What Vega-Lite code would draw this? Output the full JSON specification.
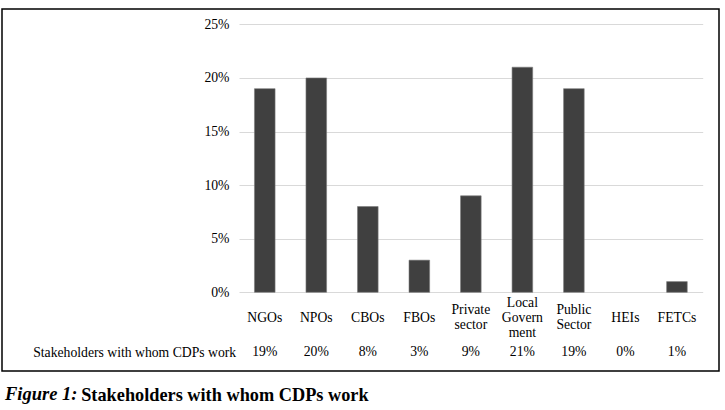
{
  "$schema": "https://vega.github.io/schema/vega-lite/v6.json",
  "width": 717,
  "height": 362,
  "autosize": {"type": "none"},
  "padding": {"left": 2, "top": 9, "right": 6, "bottom": 39},
  "background": "white",
  "config": {
    "view": {"stroke": "black", "strokeWidth": 1.5},
    "font": "Liberation Serif"
  },
  "title": {
    "text": "Figure 1:",
    "orient": "bottom",
    "anchor": "start",
    "frame": "group",
    "offset": -4.5,
    "baseline": "alphabetic",
    "dx": 3,
    "font": "Liberation Serif",
    "fontSize": 18.5,
    "fontWeight": "bold",
    "fontStyle": "italic",
    "color": "black"
  },
  "data": {
    "values": [
      {"stakeholder": "NGOs", "share": 0.19},
      {"stakeholder": "NPOs", "share": 0.20},
      {"stakeholder": "CBOs", "share": 0.08},
      {"stakeholder": "FBOs", "share": 0.03},
      {"stakeholder": "Private sector", "share": 0.09},
      {"stakeholder": "Local Government", "share": 0.21},
      {"stakeholder": "Public Sector", "share": 0.19},
      {"stakeholder": "HEIs", "share": 0.0},
      {"stakeholder": "FETCs", "share": 0.01}
    ]
  },
  "encoding": {
    "x": {
      "field": "stakeholder",
      "type": "nominal",
      "sort": null,
      "scale": {"range": [237, 700.7], "paddingInner": 0.6, "paddingOuter": 0.3},
      "axis": {
        "orient": "bottom",
        "offset": -54,
        "ticks": false,
        "tickSize": 0,
        "domain": false,
        "grid": false,
        "labelPadding": {
          "condition": [
            {"test": "datum.value == 'Local Government'", "value": -15},
            {"test": "datum.value == 'Private sector' || datum.value == 'Public Sector'", "value": -7.5}
          ],
          "value": 0
        },
        "labelAngle": 0,
        "labelBaseline": "middle",
        "labelOverlap": false,
        "labelFont": "Liberation Serif",
        "labelFontSize": 13.7,
        "labelColor": "black",
        "labelLineHeight": 15,
        "labelExpr": "datum.value == 'Private sector' ? ['Private', 'sector'] : datum.value == 'Local Government' ? ['Local', 'Govern', 'ment'] : datum.value == 'Public Sector' ? ['Public', 'Sector'] : datum.label",
        "title": "Stakeholders with whom CDPs work",
        "titleFont": "Liberation Serif",
        "titleFontSize": 18.3,
        "titleFontWeight": "bold",
        "titleColor": "black",
        "titleAlign": "left",
        "titleBaseline": "alphabetic",
        "titleX": 78.7,
        "titleY": 83.7
      }
    },
    "y": {
      "field": "share",
      "type": "quantitative",
      "scale": {"domain": [-0.0734, 0.2643], "nice": false, "zero": false},
      "axis": {
        "values": [0, 0.05, 0.1, 0.15, 0.2, 0.25],
        "format": ".0%",
        "offset": -237,
        "ticks": false,
        "tickSize": 0,
        "domain": false,
        "grid": true,
        "gridColor": "#d9d9d9",
        "gridWidth": 1,
        "labelPadding": 10,
        "labelFont": "Liberation Serif",
        "labelFontSize": 13.7,
        "labelColor": "black",
        "title": "Stakeholders with whom CDPs work",
        "titleAngle": 0,
        "titleAlign": "right",
        "titleBaseline": "alphabetic",
        "titleX": -3.3,
        "titleY": 347,
        "titleFont": "Liberation Serif",
        "titleFontSize": 13.7,
        "titleFontWeight": "normal",
        "titleColor": "black"
      }
    }
  },
  "layer": [
    {
      "mark": {"type": "bar", "fill": "#404040", "stroke": "#7a7a7a", "strokeWidth": 0.6},
      "encoding": {
        "strokeOpacity": {"condition": {"test": "datum.share == 0", "value": 0}, "value": 1}
      }
    },
    {
      "mark": {"type": "text", "font": "Liberation Serif", "fontSize": 13.7, "color": "black", "baseline": "alphabetic"},
      "encoding": {
        "y": {"datum": -0.0594, "type": "quantitative"},
        "text": {"field": "share", "type": "quantitative", "format": ".0%"}
      }
    }
  ]
}
